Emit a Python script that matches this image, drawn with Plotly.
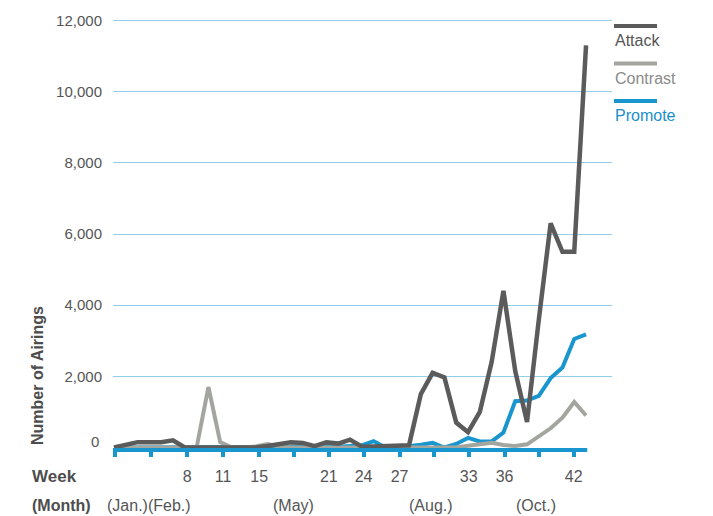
import plotly.graph_objects as go

# ---- data ----
points = list(range(41))  # weekly observations, evenly spaced
attack = [0, 60, 150, 150, 150, 200, 0, 0, 0, 0, 0, 0, 0, 40, 100, 150, 130, 40, 150, 110,
          220, 20, 30, 30, 30, 60, 1500, 2100, 1970, 700, 430, 1000, 2400, 4400, 2150, 720,
          3600, 6300, 5500, 5500, 11300]
contrast = [0, 0, 0, 0, 0, 0, 0, 0, 1700, 150, 0, 0, 30, 100, 30, 0, 0, 0, 0, 0,
            0, 0, 0, 0, 0, 0, 0, 0, 0, 0, 50, 90, 130, 70, 40, 90,
            320, 540, 840, 1280, 900]
promote = [0, 0, 0, 0, 0, 0, 0, 0, 0, 0, 0, 0, 0, 0, 0, 20, 40, 0, 50, 20,
           40, 60, 180, 0, 0, 30, 80, 130, 0, 100, 270, 170, 170, 420, 1300, 1320,
           1450, 1950, 2250, 3050, 3180]

week_tick_pos = [0.1, 3.15, 6.2, 9.25, 12.3, 15.25, 18.2, 21.15, 24.2, 27.1, 30.05, 33.1, 36.05, 38.95]
week_tick_text = ["", "", "8", "11", "15", "", "21", "24", "27", "", "33", "36", "", "42"]
month_pos = [2.97, 15.2, 26.9, 35.8]
month_text = ["(Jan.)(Feb.)", "(May)", "(Aug.)", "(Oct.)"]
y_ticks = [2000, 4000, 6000, 8000, 10000, 12000]
y_tick_text = ["2,000", "4,000", "6,000", "8,000", "10,000", "12,000"]

series_names = ["Attack", "Contrast", "Promote"]
series_colors = ["#5b5b5b", "#a3a69f", "#1a96cf"]
label_colors = ["#555555", "#8a8a8a", "#1a8fc9"]

W, H = 713, 516
L, R, T, B = 113, 101, 15, 66
PW, PH = W - L - R, H - T - B

def px_x(x):
    return (x - L) / PW

def px_y(y):
    return (H - B - y) / PH

FONT = "Liberation Sans, Arial, sans-serif"
BLUE = "#1a96cf"

fig = go.Figure()
for name, vals, col, w in [("Promote", promote, series_colors[2], 4),
                           ("Contrast", contrast, series_colors[1], 4),
                           ("Attack", attack, series_colors[0], 4.5)]:
    fig.add_trace(go.Scatter(x=points, y=vals, mode="lines", name=name,
                             line=dict(color=col, width=w), showlegend=False))

shapes = [dict(type="line", xref="x", yref="paper", x0=-0.1, x1=40.1, y0=0, y1=0,
               line=dict(color=BLUE, width=4))]
annotations = []

# manual legend
legend_line_y = [26, 63.5, 101]
legend_text_y = [41, 78.5, 115]
for name, col, tcol, ly, ty in zip(series_names, series_colors, label_colors, legend_line_y, legend_text_y):
    shapes.append(dict(type="line", xref="paper", yref="paper", x0=px_x(614), x1=px_x(657),
                       y0=px_y(ly), y1=px_y(ly), line=dict(color=col, width=4)))
    annotations.append(dict(text=name, xref="paper", yref="paper", x=px_x(613), y=px_y(ty),
                            xanchor="left", yanchor="middle", showarrow=False,
                            font=dict(family=FONT, size=16, color=tcol)))

# zero label
annotations.append(dict(text="0", xref="paper", yref="y", x=0, y=180, xanchor="right",
                        yanchor="middle", xshift=-12, showarrow=False,
                        font=dict(family=FONT, size=15, color="#555555")))
# y title
annotations.append(dict(text="<b>Number of Airings</b>", xref="paper", yref="paper",
                        x=px_x(37), y=px_y(376), textangle=-90, showarrow=False,
                        xanchor="center", yanchor="middle",
                        font=dict(family=FONT, size=16, color="#4d4d4d")))
# Week / Month row labels
annotations.append(dict(text="<b>Week</b>", xref="paper", yref="paper", x=px_x(30), y=px_y(476),
                        xanchor="left", yanchor="middle", showarrow=False,
                        font=dict(family=FONT, size=17, color="#4d4d4d")))
annotations.append(dict(text="<b>(Month)</b>", xref="paper", yref="paper", x=px_x(30), y=px_y(505),
                        xanchor="left", yanchor="middle", showarrow=False,
                        font=dict(family=FONT, size=16, color="#4d4d4d")))
for mp, mt in zip(month_pos, month_text):
    annotations.append(dict(text=mt, xref="x", yref="paper", x=mp, y=px_y(505),
                            xanchor="center", yanchor="middle", showarrow=False,
                            font=dict(family=FONT, size=16, color="#555555")))

fig.update_layout(
    width=W, height=H, autosize=False,
    margin=dict(l=L, r=R, t=T, b=B),
    paper_bgcolor="white", plot_bgcolor="white",
    shapes=shapes, annotations=annotations,
    xaxis=dict(range=[-0.085, 42.2], showgrid=False, zeroline=False, showline=False,
               tickmode="array", tickvals=week_tick_pos, ticktext=week_tick_text,
               ticks="outside", ticklen=6, tickwidth=4, tickcolor=BLUE,
               ticklabelstandoff=6,
               tickfont=dict(family=FONT, size=16, color="#555555")),
    yaxis=dict(range=[-70, 12155], showgrid=True, gridcolor="#92cdea", gridwidth=1,
               zeroline=False, showline=False, tickmode="array", tickvals=y_ticks,
               ticktext=y_tick_text, ticks="", ticklabelstandoff=10,
               tickfont=dict(family=FONT, size=15, color="#555555")),
)

fig.write_html("out.html", config={"displayModeBar": False},
               post_script="document.body.style.margin='0';document.body.style.padding='0';")
